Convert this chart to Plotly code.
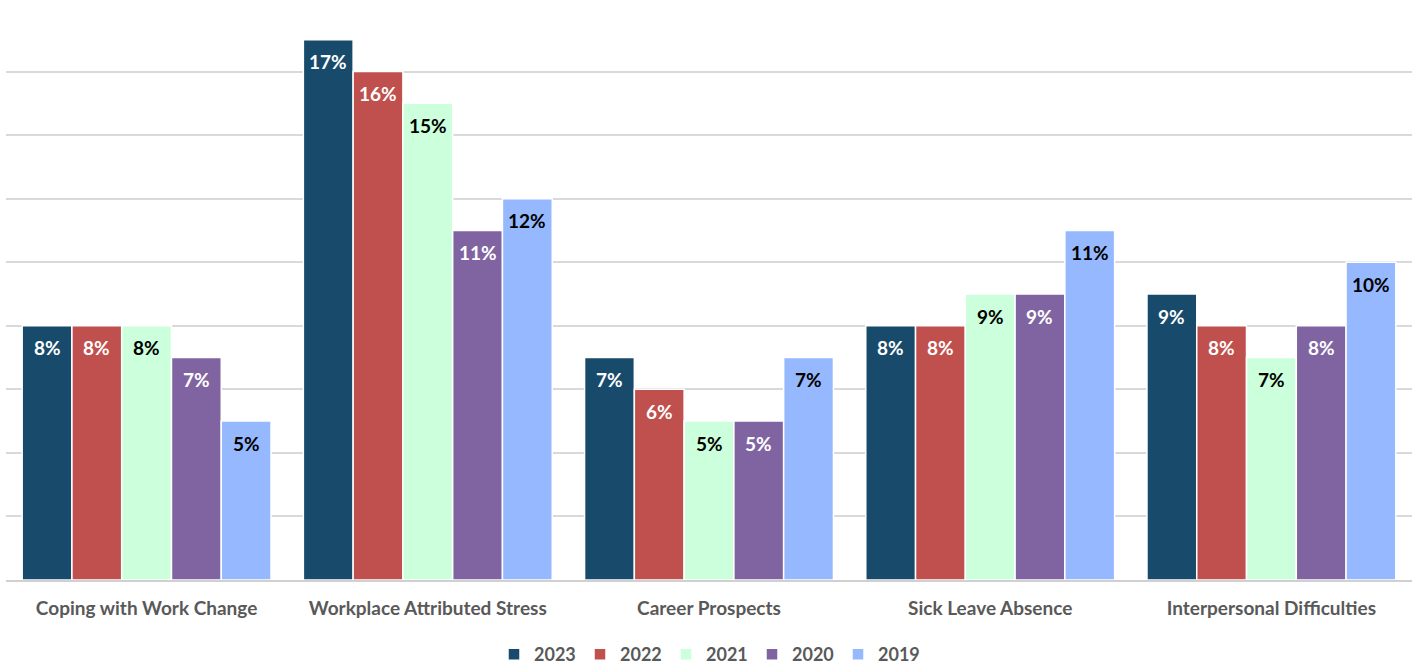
import plotly.graph_objects as go

categories = ["Coping with Work Change", "Workplace Attributed Stress",
              "Career Prospects", "Sick Leave Absence", "Interpersonal Difficulties"]
years = ["2023", "2022", "2021", "2020", "2019"]
values_2023 = [8, 17, 7, 8, 9]
values_2022 = [8, 16, 6, 8, 8]
values_2021 = [8, 15, 5, 9, 7]
values_2020 = [7, 11, 5, 9, 8]
values_2019 = [5, 12, 7, 11, 10]

series = [values_2023, values_2022, values_2021, values_2020, values_2019]
colors = ["#174A6B", "#C0504D", "#CCFFDB", "#8064A2", "#95B8FE"]
label_colors = ["white", "white", "black", "white", "black"]

FONT = "Lato, 'Open Sans', sans-serif"
BARGAP = 0.115

fig = go.Figure()
for year, vals, col in zip(years, series, colors):
    fig.add_trace(go.Bar(
        name=year, x=categories, y=vals,
        marker=dict(color=col, line=dict(color="white", width=1.5)),
        hoverinfo="x+y+name",
    ))

# value labels placed inside each bar, just below its top
n = len(series)
slot = (1 - BARGAP) / n
for j, (vals, lc) in enumerate(zip(series, label_colors)):
    for i, v in enumerate(vals):
        fig.add_annotation(
            x=i + (j - (n - 1) / 2) * slot, y=v, xref="x", yref="y",
            text=f"{v}%", showarrow=False, yshift=-22, yanchor="middle",
            font=dict(family=FONT, size=19, color=lc, weight="bold"),
        )

fig.update_layout(
    width=1420, height=668,
    barmode="group", bargap=BARGAP, bargroupgap=0,
    plot_bgcolor="white", paper_bgcolor="white",
    margin=dict(l=6, r=8, t=8, b=88, autoexpand=False),
    font=dict(family=FONT, size=16, color="#595959"),
    legend=dict(orientation="h", x=0.5, xanchor="center",
                yref="container", y=0.02, yanchor="middle",
                font=dict(family=FONT, size=18, color="#595959", weight="bold"),
                itemwidth=30, entrywidth=41, traceorder="normal"),
    xaxis=dict(showline=True, linecolor="#D0D0D0", linewidth=2, ticks="",
               ticklabelstandoff=10,
               tickfont=dict(family=FONT, size=19, color="#595959", weight="bold")),
    yaxis=dict(range=[0, 18], dtick=2, showgrid=True, gridcolor="#D9D9D9", gridwidth=2,
               showticklabels=False, zeroline=False),
)

fig.write_html("out.html")
